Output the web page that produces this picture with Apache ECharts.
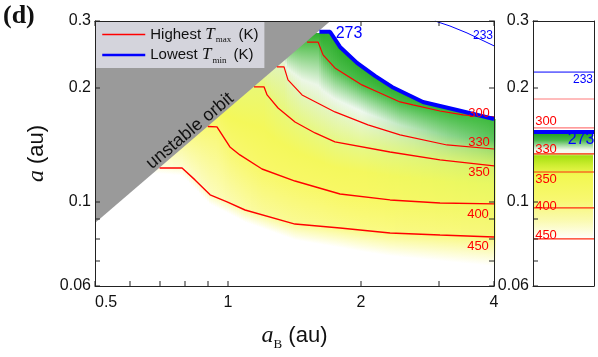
<!DOCTYPE html>
<html>
<head>
<meta charset="utf-8">
<script src="https://cdn.jsdelivr.net/npm/echarts@6/dist/echarts.min.js"></script>
<style>
html, body { margin: 0; padding: 0; background: #fff; }
#chart { width: 598px; height: 357px; }
</style>
</head>
<body>
<div id="chart"></div>
<script>
// tick values (both axes are logarithmic)
const xLabelVals = [0.5, 1, 2, 4];
const xTickVals = [0.5, 0.6, 0.7, 0.8, 0.9, 1, 2, 3, 4];
const yLabelVals = [0.06, 0.1, 0.2, 0.3];
const yTickVals = [0.06, 0.07, 0.08, 0.09, 0.1, 0.2, 0.3];

// unstable orbit region, corners [a_B, a]
const unstableAB = [0.5, 0.5, 1.705];
const unstableA = [0.088, 0.3, 0.3];

// contours, points [a_B (au), a (au)]
const tmin233 = [[2.94, 0.3], [3.18, 0.291], [3.475, 0.279], [4.0, 0.258]];
const tmin273 = [[1.61, 0.281], [1.702, 0.281], [1.793, 0.2563], [1.959, 0.2326], [2.151, 0.215], [2.351, 0.201], [2.763, 0.1835], [3.298, 0.1748], [4.0, 0.1655]];
const tmax300 = [[1.51, 0.264], [1.599, 0.264], [1.641, 0.2442], [1.746, 0.2256], [2.01, 0.2035], [2.208, 0.1938], [2.451, 0.1835], [2.623, 0.1802], [3.019, 0.1737], [3.403, 0.1696], [4.0, 0.1675]];
const tmax330 = [[1.29, 0.227], [1.339, 0.227], [1.367, 0.2098], [1.471, 0.1915], [1.746, 0.1727], [2.074, 0.1596], [2.451, 0.1502], [3.131, 0.1413], [4.0, 0.1379]];
const tmax350 = [[1.145, 0.201], [1.207, 0.201], [1.226, 0.1915], [1.298, 0.1769], [1.418, 0.1625], [1.574, 0.152], [1.746, 0.1439], [2.327, 0.1354], [3.019, 0.129], [4.0, 0.1244]];
const tmax400 = [[0.9, 0.158], [0.944, 0.1577], [1.01, 0.1396], [1.064, 0.133], [1.194, 0.1221], [1.418, 0.1135], [1.793, 0.1049], [2.327, 0.1012], [3.019, 0.0993], [4.0, 0.0988]];
const tmax450 = [[0.7, 0.1229], [0.787, 0.1229], [0.842, 0.1143], [0.911, 0.1044], [0.995, 0.1], [1.093, 0.0952], [1.418, 0.0874], [1.793, 0.0853], [2.327, 0.0828], [3.019, 0.0818], [4.0, 0.0808]];

// right panel: levels in a (au)
const sideTmaxA = [0.1868, 0.1567, 0.1338, 0.1199, 0.0964, 0.0799];
const sideTminA = [0.22, 0.1529];

// colour field (style only): colours along each contour at a few a_B columns
const fieldCols = [0.7, 1.2, 2.0, 4.0];
const fieldColors = {
    g273: ['#2aaa2a', '#2aaa2a', '#2eae2e', '#30b030'],
    c300: ['#58c050', '#58c050', '#4cbe4c', '#3cba3c'],
    cMid: ['#eaf6e0', '#eaf6e0', '#eef8ee', '#5cc45c'],
    c330: ['#e0f4b0', '#e0f4b0', '#e6f6cc', '#9cdc6c'],
    c350: ['#eaf874', '#eaf874', '#e6f888', '#d6f068'],
    c375: ['#f4f85a', '#f4f85a', '#f4f85e', '#e8f862'],
    c400: ['#f8f880', '#f8f868', '#f8f864', '#f0f866'],
    c450: ['#fefee0', '#fafa9a', '#fafa84', '#f8f87c']
};
const fadePx = [6, 14, 22, 30];
const sideFill = [
    [0.1529, '#ffffff'], [0.1529, '#1a9a1a'], [0.1456, '#48b848'], [0.1371, '#f4faf0'],
    [0.1346, '#f4faf0'], [0.1321, '#a4e010'], [0.1252, '#cced30'], [0.1178, '#f2f850'],
    [0.1012, '#f8f870'], [0.0896, '#fafaac'], [0.0793, '#ffffff']
];

const lg = Math.log10;
const toLog = pts => pts.map(p => [lg(p[0]), lg(p[1])]);
const fmt = v => String(+Math.pow(10, v).toPrecision(3));

function hexRgb(h) {
    return [1, 3, 5].map(i => parseInt(h.substr(i, 2), 16));
}
function mix(a, b, t) {
    const A = hexRgb(a), B = hexRgb(b);
    return 'rgb(' + A.map((v, i) => Math.round(v + (B[i] - v) * t)).join(',') + ')';
}
function segment(xs, x) {
    if (x <= xs[0]) return [0, 0];
    for (let i = 1; i < xs.length; i++) {
        if (x <= xs[i]) return [i - 1, (x - xs[i - 1]) / (xs[i] - xs[i - 1])];
    }
    return [xs.length - 2, 1];
}
function yAt(pts, x) {
    if (x <= pts[0][0]) return pts[0][1];
    for (let i = 1; i < pts.length; i++) {
        if (x <= pts[i][0]) {
            const t = (x - pts[i - 1][0]) / (pts[i][0] - pts[i - 1][0]);
            return pts[i - 1][1] + t * (pts[i][1] - pts[i - 1][1]);
        }
    }
    return pts[pts.length - 1][1];
}

// shading of the main panel: one vertical gradient per pixel column,
// with stops placed on the contour lines
function renderField(params, api) {
    const cs = params.coordSys;
    const px = line => line.map(p => api.coord([lg(p[0]), lg(p[1])]));
    const lines = [tmin273, tmax300, tmax330, tmax350, tmax400, tmax450].map(px);
    const colPx = fieldCols.map(b => api.coord([lg(b), lg(0.1)])[0]);
    const children = [];
    const step = 2;
    for (let x = cs.x; x < cs.x + cs.width; x += step) {
        const xc = x + step / 2;
        const seg = segment(colPx, xc);
        const c = key => mix(fieldColors[key][seg[0]], fieldColors[key][seg[0] + 1], seg[1]);
        const fade = fadePx[seg[0]] + (fadePx[seg[0] + 1] - fadePx[seg[0]]) * seg[1];
        const ys = lines.map(l => yAt(l, xc));
        const raw = [
            [ys[0], '#ffffff'], [ys[0], c('g273')],
            [ys[1], c('c300')],
            [ys[1] + 0.7 * (ys[2] - ys[1]), c('cMid')],
            [ys[2], c('c330')],
            [ys[3], c('c350')],
            [(ys[3] + ys[4]) / 2, c('c375')],
            [ys[4], c('c400')],
            [ys[5], c('c450')],
            [ys[5] + fade, '#ffffff']
        ];
        let prev = 0;
        const stops = raw.map(s => {
            let o = Math.min(1, Math.max(0, (s[0] - cs.y) / cs.height));
            o = Math.max(o, prev);
            prev = o;
            return {offset: o, color: s[1]};
        });
        children.push({
            type: 'rect',
            shape: {x: x, y: cs.y + 1, width: step + 0.6, height: cs.height - 2},
            style: {fill: new echarts.graphic.LinearGradient(0, 0, 0, 1, stops)}
        });
    }
    return {type: 'group', children: children};
}

function renderSideField(params, api) {
    const cs = params.coordSys;
    const stops = sideFill.map(s => ({
        offset: Math.min(1, Math.max(0, (api.coord([0.5, lg(s[0])])[1] - cs.y) / cs.height)),
        color: s[1]
    }));
    return {
        type: 'rect',
        shape: {x: cs.x + 1, y: cs.y + 1, width: cs.width - 2, height: cs.height - 2},
        style: {fill: new echarts.graphic.LinearGradient(0, 0, 0, 1, stops)}
    };
}

function renderUnstable(params, api) {
    return {
        type: 'polygon',
        shape: {points: unstableAB.map((b, i) => api.coord([lg(b), lg(unstableA[i])]))},
        style: {fill: '#9a9a9a'}
    };
}

// inward tick marks, placed from the tick arrays through the axis scales
const tickLen = 5;
function tickMark(x, y, w, h) {
    return {type: 'rect', shape: {x: x, y: y, width: w, height: h}, style: {fill: '#222'}};
}
function tickMarks(xs, ys, sides, cs, api) {
    const out = [];
    const bottom = cs.y + cs.height;
    const right = cs.x + cs.width;
    xs.forEach(v => {
        const x = Math.round(api.coord([lg(v), lg(0.1)])[0]);
        if (sides.indexOf('b') >= 0) out.push(tickMark(x - 0.5, bottom - tickLen, 1, tickLen));
        if (sides.indexOf('t') >= 0) out.push(tickMark(x - 0.5, cs.y, 1, tickLen));
    });
    ys.forEach(v => {
        const y = Math.round(api.coord([lg(1), lg(v)])[1]);
        if (sides.indexOf('l') >= 0) out.push(tickMark(cs.x, y - 0.5, tickLen, 1));
        if (sides.indexOf('r') >= 0) out.push(tickMark(right - tickLen, y - 0.5, tickLen, 1));
    });
    return {type: 'group', children: out};
}
function renderMainTicks(params, api) {
    return tickMarks(xTickVals, yTickVals, 'btlr', params.coordSys, api);
}
function renderSideTicks(params, api) {
    return tickMarks([], yTickVals, 'l', params.coordSys, api);
}

function contour(name, pts, color, width) {
    return {
        type: 'line', name: name, xAxisIndex: 0, yAxisIndex: 0,
        data: toLog(pts), symbol: 'none', silent: true, z: 5,
        itemStyle: {color: color},
        lineStyle: {color: color, width: width}
    };
}
function sideLine(name, a, color, width) {
    return {
        type: 'line', name: name, xAxisIndex: 2, yAxisIndex: 2,
        data: [[0, lg(a)], [1, lg(a)]], symbol: 'none', silent: true, z: 5,
        itemStyle: {color: color},
        lineStyle: {color: color, width: width}
    };
}

const sansFont = 'Liberation Sans';
const serifFont = 'Liberation Serif';
const axisCol = '#222';

function xAxisCfg(grid, pos, labels) {
    return {
        gridIndex: grid, type: 'value', position: pos, z: 10,
        min: lg(0.5), max: lg(4),
        axisLine: {show: true, onZero: false, lineStyle: {color: axisCol, width: 1}},
        axisTick: {show: false},
        axisLabel: labels ? {
            customValues: xLabelVals.map(lg), formatter: fmt, margin: 9, alignMinLabel: 'left',
            fontSize: 16, fontFamily: sansFont, color: '#111'
        } : {show: false},
        splitLine: {show: false}
    };
}
function yAxisCfg(grid, pos, labels) {
    return {
        gridIndex: grid, type: 'value', position: pos, z: 10,
        min: lg(0.06), max: lg(0.3),
        axisLine: {show: true, onZero: false, lineStyle: {color: axisCol, width: 1}},
        axisTick: {show: false},
        axisLabel: labels ? {
            customValues: yLabelVals.map(lg), formatter: fmt, margin: 4,
            fontSize: 16, fontFamily: sansFont, color: '#111'
        } : {show: false},
        splitLine: {show: false}
    };
}
function plainX(grid, pos) {
    return {
        gridIndex: grid, type: 'value', position: pos, min: 0, max: 1, z: 10,
        axisLine: {show: true, onZero: false, lineStyle: {color: axisCol}},
        axisTick: {show: false}, axisLabel: {show: false}, splitLine: {show: false}
    };
}

const xMain = xAxisCfg(0, 'bottom', true);
xMain.name = '{i|a}{s|B}{n| (au)}';
xMain.nameLocation = 'middle';
xMain.nameGap = 35;
xMain.nameTextStyle = {
    color: '#111',
    rich: {
        i: {fontFamily: serifFont, fontStyle: 'italic', fontSize: 24, lineHeight: 30, color: '#111'},
        s: {fontFamily: serifFont, fontSize: 13, lineHeight: 13, verticalAlign: 'bottom', color: '#111'},
        n: {fontFamily: sansFont, fontSize: 22, lineHeight: 30, color: '#111'}
    }
};
const yMain = yAxisCfg(0, 'left', true);
yMain.name = '{i|a}{n| (au)}';
yMain.nameLocation = 'middle';
yMain.nameRotate = 90;
yMain.nameGap = 46;
yMain.nameTextStyle = {
    color: '#111',
    rich: {
        i: {fontFamily: serifFont, fontStyle: 'italic', fontSize: 24, color: '#111'},
        n: {fontFamily: sansFont, fontSize: 22, color: '#111'}
    }
};

const redLbl = (t, x, y) => ({
    type: 'text', x: x, y: y, z: 20,
    style: {text: t, fill: '#ff0000', font: '13px "Liberation Sans"', align: 'center', verticalAlign: 'middle', textAlign: 'center', textVerticalAlign: 'middle'}
});
const blueLbl = (t, x, y, size) => ({
    type: 'text', x: x, y: y, z: 20,
    style: {text: t, fill: '#0000ff', font: size + 'px "Liberation Sans"', align: 'center', verticalAlign: 'middle', textAlign: 'center', textVerticalAlign: 'middle'}
});

const series = [
    {type: 'custom', name: 'field', xAxisIndex: 0, yAxisIndex: 0, data: [[0, -1]], renderItem: renderField, silent: true, z: -3},
    {type: 'custom', name: 'sidefield', xAxisIndex: 2, yAxisIndex: 2, data: [[0.5, -1]], renderItem: renderSideField, silent: true, z: -3},
    {type: 'custom', name: 'unstable', xAxisIndex: 0, yAxisIndex: 0, data: [[0, -1]], renderItem: renderUnstable, silent: true, z: -2},
    contour('tmax', tmax300, '#ff0000', 1.2),
    contour('tmax', tmax330, '#ff0000', 1.2),
    contour('tmax', tmax350, '#ff0000', 1.3),
    contour('tmax', tmax400, '#ff0000', 1.4),
    contour('tmax', tmax450, '#ff0000', 1.4),
    contour('tmin', tmin233, '#0000ff', 1),
    contour('tmin', tmin273, '#0000ff', 4)
];
sideTmaxA.forEach((a, i) => series.push(sideLine('tmax', a, i < 2 ? '#ff7a7a' : '#ff2a10', 1.2)));
series.push(sideLine('tmin', sideTminA[0], '#0000ff', 1));
series.push(sideLine('tmin', sideTminA[1], '#0000ff', 4));
series.push({type: 'custom', name: 'ticks', xAxisIndex: 0, yAxisIndex: 0, data: [[0.1, -1]], renderItem: renderMainTicks, silent: true, z: 12});
series.push({type: 'custom', name: 'sideticks', xAxisIndex: 2, yAxisIndex: 2, data: [[0.5, -1]], renderItem: renderSideTicks, silent: true, z: 12});

const hiddenMark = {color: 'rgba(0,0,0,0)', borderColor: 'rgba(0,0,0,0)', borderWidth: 0, opacity: 0};

const option = {
    animation: false,
    backgroundColor: '#ffffff',
    grid: [
        {left: 95, top: 21, width: 399, height: 265},
        {left: 533, top: 21, width: 61, height: 265}
    ],
    xAxis: [xMain, xAxisCfg(0, 'top', false), plainX(1, 'bottom'), plainX(1, 'top')],
    yAxis: [yMain, yAxisCfg(0, 'right', false), yAxisCfg(1, 'left', true), yAxisCfg(1, 'right', false)],
    legend: {
        left: 96, top: 22, orient: 'vertical', z: 20,
        backgroundColor: '#d4d4dc', padding: [4, 6, 3, 5], itemGap: 2,
        itemWidth: 43, itemHeight: 14,
        itemStyle: hiddenMark,
        data: [
            {name: 'tmax', lineStyle: {width: 1.5, color: '#ff0000'}, itemStyle: hiddenMark},
            {name: 'tmin', lineStyle: {width: 2.5, color: '#0000ff'}, itemStyle: hiddenMark}
        ],
        formatter: n => n === 'tmax' ? '{n|Highest }{t|T}{s|max}{n| (K)}' : '{n|Lowest }{t|T}{s|min}{n| (K)}',
        textStyle: {
            rich: {
                n: {fontFamily: sansFont, fontSize: 15, lineHeight: 20, color: '#111'},
                t: {fontFamily: serifFont, fontStyle: 'italic', fontSize: 17, lineHeight: 20, color: '#111'},
                s: {fontFamily: serifFont, fontSize: 9, lineHeight: 9, verticalAlign: 'bottom', padding: [0, 3, 0, 1], color: '#111'}
            }
        }
    },
    graphic: [
        {type: 'text', left: 3, top: 3, style: {text: '(d)', font: 'bold 26px "Liberation Serif"', fill: '#111'}},
        {
            type: 'text', x: 190, y: 131, rotation: 40 * Math.PI / 180, z: 20,
            style: {text: 'unstable orbit', font: '18px "Liberation Sans"', fill: '#111', align: 'center', verticalAlign: 'middle', textAlign: 'center', textVerticalAlign: 'middle'}
        },
        blueLbl('273', 349, 34, 16),
        blueLbl('233', 483, 36, 12),
        redLbl('300', 479, 113),
        redLbl('330', 479, 142),
        redLbl('350', 479, 172),
        redLbl('400', 478, 214),
        redLbl('450', 478, 246),
        blueLbl('233', 583, 80, 12),
        redLbl('300', 546, 121),
        blueLbl('273', 581, 140, 16),
        redLbl('330', 546, 149),
        redLbl('350', 546, 179),
        redLbl('400', 546, 206),
        redLbl('450', 546, 235)
    ],
    series: series
};

const chart = echarts.init(document.getElementById('chart'));
chart.setOption(option);
</script>
</body>
</html>
